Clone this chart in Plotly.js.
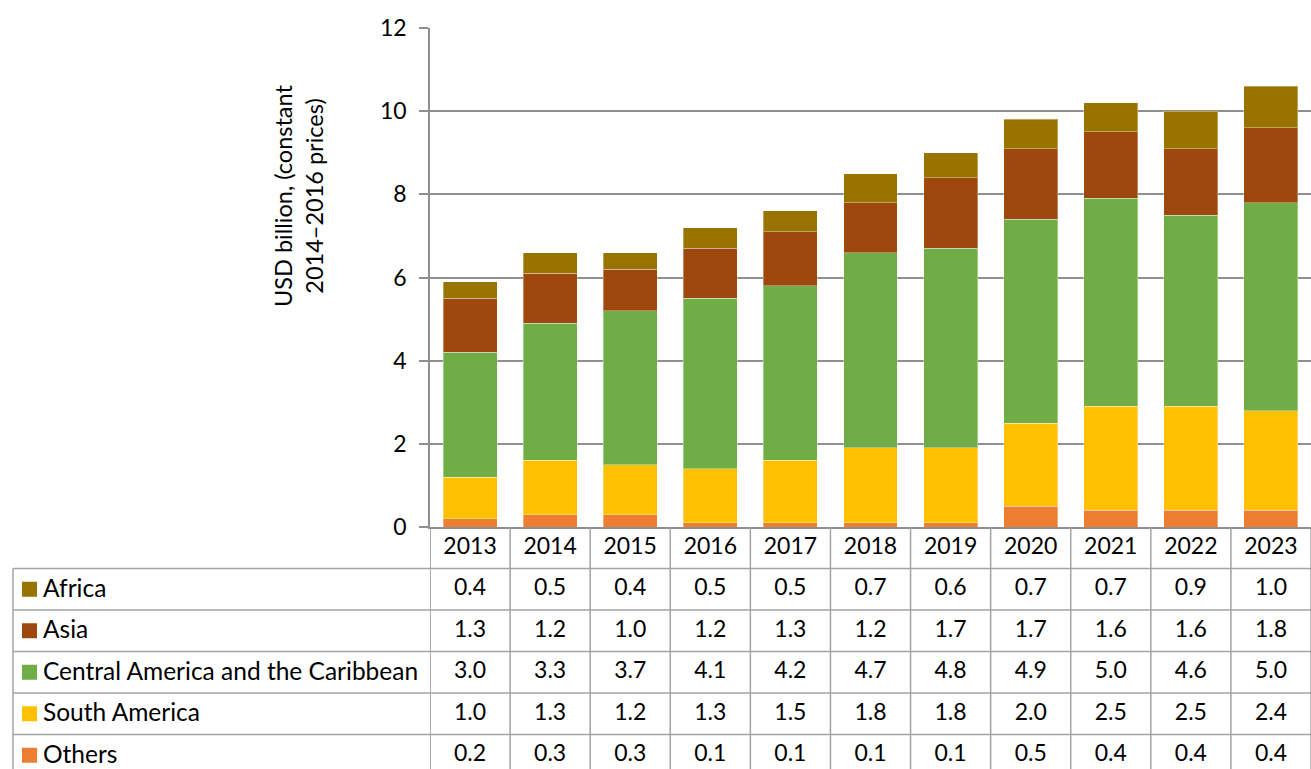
<!DOCTYPE html>
<html>
<head>
<meta charset="utf-8">
<script src="https://cdn.plot.ly/plotly-3.0.1.min.js"></script>
<style>
  html, body { margin: 0; padding: 0; background: #fff; }
  #chart { width: 1311px; height: 769px; }
</style>
</head>
<body>
<div id="chart"></div>
<script>
// Years and regional values (USD billion, constant 2014–2016 prices)
const years = ['2013', '2014', '2015', '2016', '2017', '2018', '2019', '2020', '2021', '2022', '2023'];
const africa = [0.4, 0.5, 0.4, 0.5, 0.5, 0.7, 0.6, 0.7, 0.7, 0.9, 1.0];
const asia = [1.3, 1.2, 1.0, 1.2, 1.3, 1.2, 1.7, 1.7, 1.6, 1.6, 1.8];
const centralAmerica = [3.0, 3.3, 3.7, 4.1, 4.2, 4.7, 4.8, 4.9, 5.0, 4.6, 5.0];
const southAmerica = [1.0, 1.3, 1.2, 1.3, 1.5, 1.8, 1.8, 2.0, 2.5, 2.5, 2.4];
const others = [0.2, 0.3, 0.3, 0.1, 0.1, 0.1, 0.1, 0.5, 0.4, 0.4, 0.4];

// Table rows, top to bottom
const rowNames = ['Africa', 'Asia', 'Central America and the Caribbean', 'South America', 'Others'];
const rowValues = [africa, asia, centralAmerica, southAmerica, others];
const rowColors = ['#997300', '#9E480E', '#70AD47', '#FFC000', '#ED7D31'];

const W = 1311, H = 769;
const FONT = 'Lato, "Liberation Sans", sans-serif';
const FS_TEXT = 24.5;   // legend labels and axis title
const FS_NUM = 23;      // numbers and years
const GRID = '#8f8f8f';
const TABLE_LINE = '#a3a3a3';

// Pixel layout helpers
const px = x => x / W;
const py = y => (H - y) / H;
const plotLeft = 430, plotTop = 28, axisY = 527;
const tableLeft = 13;
const rowH = 41.5;
const tableBottomVal = -0.5 + (H - axisY) / rowH;

// Stacked bars, bottom to top
const stackOrder = [4, 3, 2, 1, 0];
const traces = stackOrder.map(i => ({
  type: 'bar',
  name: rowNames[i],
  x: years,
  y: rowValues[i],
  xaxis: 'x',
  yaxis: 'y',
  marker: { color: rowColors[i], line: { color: 'rgba(255,255,255,0.35)', width: 1 } },
  hoverinfo: 'x+y+name',
  showlegend: false
}));

// Data table text: header row of years, then one row per region
const tx = [], ty = [], tt = [];
years.forEach(yr => { tx.push(yr); ty.push(0); tt.push(yr); });
rowValues.forEach((vals, r) => {
  vals.forEach((v, c) => { tx.push(years[c]); ty.push(r + 1); tt.push(v.toFixed(1)); });
});
traces.push({
  type: 'scatter',
  mode: 'text',
  x: tx, y: ty, text: tt,
  xaxis: 'x2', yaxis: 'y2',
  textposition: 'middle center',
  textfont: { family: FONT, size: FS_NUM, color: '#000' },
  hoverinfo: 'skip',
  showlegend: false,
  cliponaxis: false
});

const shapes = [];
const annotations = [];

// Column separators of the table
for (let i = 0; i <= years.length; i++) {
  shapes.push({
    type: 'line', xref: 'x2', yref: 'y2',
    x0: i - 0.5, x1: i - 0.5, y0: -0.5, y1: tableBottomVal,
    line: { color: i === 0 ? GRID : TABLE_LINE, width: 1.5 }
  });
}
// Row separators
for (let r = 0; r < rowNames.length; r++) {
  shapes.push({
    type: 'line', xref: 'paper', yref: 'y2',
    x0: px(tableLeft), x1: 1, y0: r + 0.5, y1: r + 0.5,
    line: { color: TABLE_LINE, width: 1.5 }
  });
}
// Left border of the legend column
shapes.push({
  type: 'line', xref: 'paper', yref: 'y2',
  x0: px(tableLeft), x1: px(tableLeft), y0: 0.5, y1: tableBottomVal,
  line: { color: TABLE_LINE, width: 1.5 }
});

// Legend keys and labels in the first column
rowNames.forEach((name, r) => {
  const yc = r + 1;
  const half = 7.5 / rowH;
  shapes.push({
    type: 'rect', xref: 'paper', yref: 'y2',
    x0: px(22), x1: px(37), y0: yc - half, y1: yc + half,
    fillcolor: rowColors[r], line: { width: 0 }
  });
  annotations.push({
    xref: 'paper', yref: 'y2', x: px(41), y: yc - 0.05,
    xanchor: 'left', yanchor: 'middle', showarrow: false,
    text: name, font: { family: FONT, size: FS_TEXT, color: '#000' }
  });
});

// Vertical axis title
annotations.push({
  xref: 'paper', yref: 'paper', x: px(298), y: py(196),
  xanchor: 'center', yanchor: 'middle', showarrow: false,
  textangle: -90,
  text: 'USD billion, (constant<br>2014–2016 prices)',
  font: { family: FONT, size: 23.5, color: '#000' }
});

const layout = {
  width: W, height: H,
  margin: { l: 0, r: 0, t: 0, b: 0, pad: 0 },
  paper_bgcolor: '#fff',
  plot_bgcolor: '#fff',
  barmode: 'stack',
  bargap: 0.326,
  font: { family: FONT, size: FS_NUM, color: '#000' },
  xaxis: {
    domain: [px(plotLeft), 1],
    type: 'category',
    range: [-0.5, years.length - 0.5],
    showticklabels: false,
    ticks: '',
    showgrid: false,
    zeroline: false,
    showline: true, linecolor: GRID, linewidth: 1.5,
    fixedrange: true
  },
  yaxis: {
    domain: [py(axisY), py(plotTop)],
    range: [0, 12],
    tickvals: [0, 2, 4, 6, 8, 10, 12],
    ticks: 'outside', ticklen: 9, tickcolor: GRID, tickwidth: 1.5,
    ticklabelstandoff: 8,
    tickfont: { family: FONT, size: FS_NUM, color: '#000' },
    showgrid: true, gridcolor: GRID, gridwidth: 1.5,
    zeroline: false,
    showline: true, linecolor: GRID, linewidth: 1.5,
    fixedrange: true
  },
  xaxis2: {
    domain: [px(plotLeft), 1],
    type: 'category',
    matches: 'x',
    anchor: 'y2',
    showticklabels: false, ticks: '', showgrid: false, zeroline: false, showline: false,
    fixedrange: true
  },
  yaxis2: {
    domain: [0, py(axisY)],
    anchor: 'x2',
    range: [tableBottomVal, -0.5],
    showticklabels: false, ticks: '', showgrid: false, zeroline: false, showline: false,
    fixedrange: true
  },
  shapes: shapes,
  annotations: annotations,
  showlegend: false
};

Plotly.newPlot('chart', traces, layout, { displayModeBar: false });
</script>
</body>
</html>
